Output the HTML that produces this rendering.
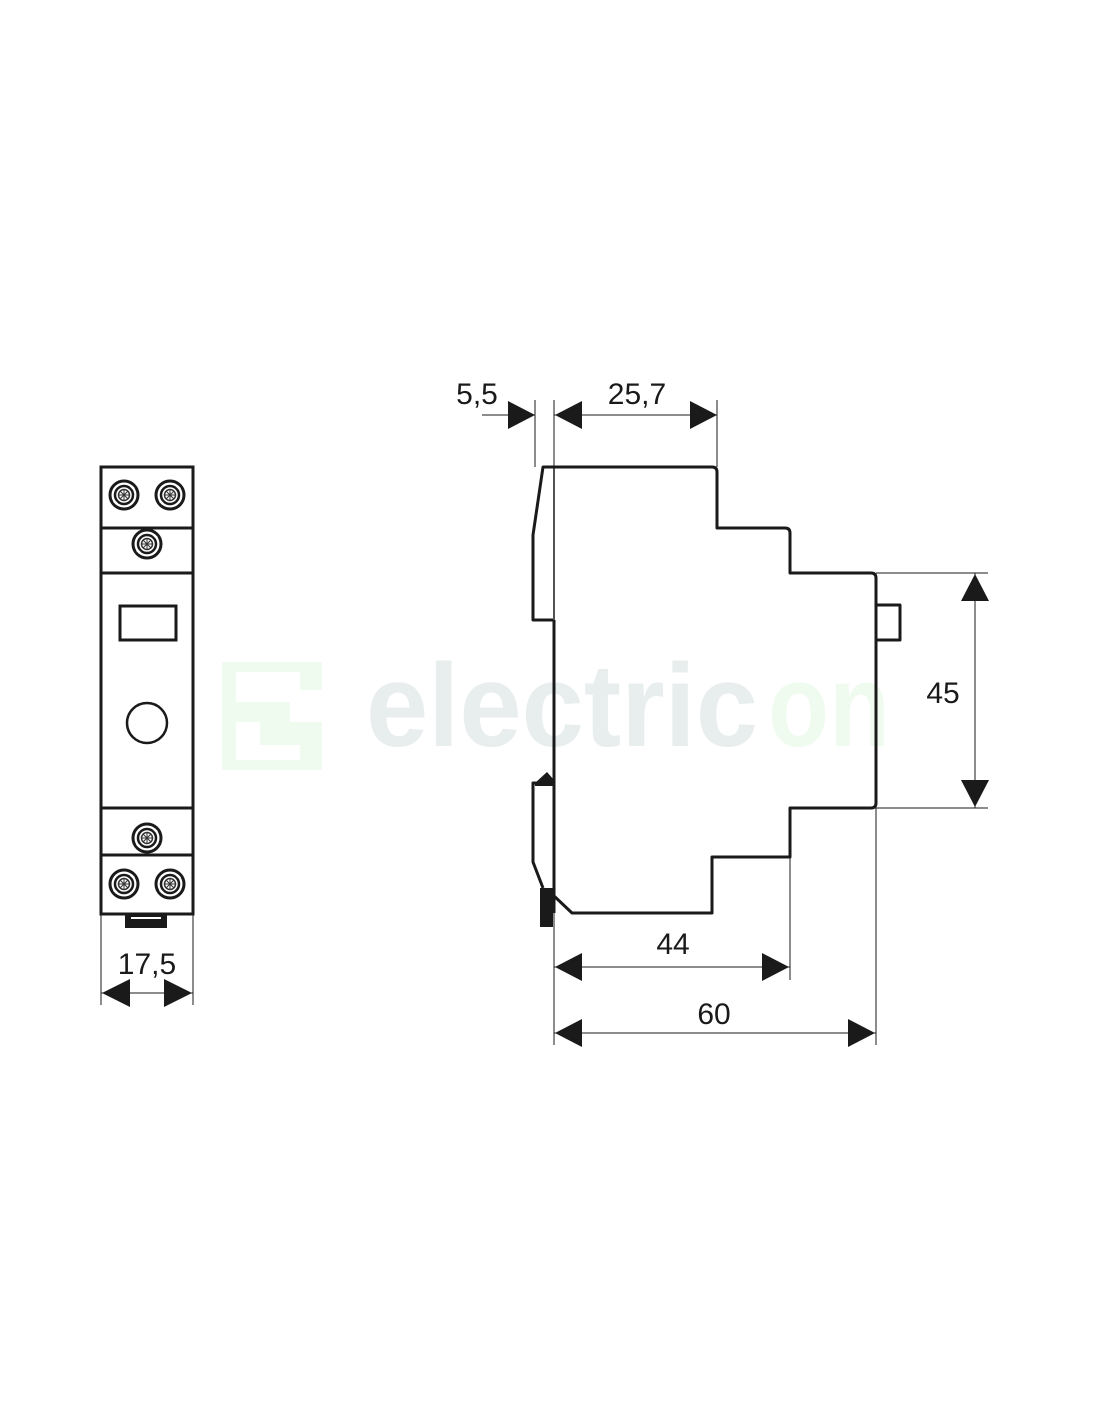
<!DOCTYPE html>
<html><head><meta charset="utf-8"><style>
html,body{margin:0;padding:0;background:#fff}
svg{display:block}
text{font-family:"Liberation Sans",Arial,sans-serif;fill:#1a1a1a}
</style></head><body>
<svg width="1100" height="1422" viewBox="0 0 1100 1422" xmlns="http://www.w3.org/2000/svg">
<defs>
<g id="screw">
  <circle r="14" fill="none" stroke="#1a1a1a" stroke-width="3"/>
  <circle r="9" fill="none" stroke="#1a1a1a" stroke-width="2.5"/>
  <circle r="5.5" fill="none" stroke="#333" stroke-width="1.5"/>
  <path d="M-4,-4L4,4M4,-4L-4,4M0,-5.5V5.5M-5.5,0H5.5" stroke="#333" stroke-width="1"/>
  <path d="M7,-9L10,-6M-7,9L-10,6" stroke="#fff" stroke-width="2.5"/>
</g>
</defs>
<!-- watermark -->
<g>
  <path d="M222,662 H322 V690 H300 V672 H236 V760 H300 V745 H260 V722 H236 V702 H290 V722 H322 V770 H222 Z" fill="#f0fbef"/>
  <text x="366" y="746" font-size="118" font-weight="bold" style="fill:#e8eded" textLength="392" lengthAdjust="spacingAndGlyphs">electric</text>
  <text x="768" y="746" font-size="118" font-weight="bold" style="fill:#f0fbef" textLength="122" lengthAdjust="spacingAndGlyphs">on</text>
</g>

<!-- FRONT VIEW -->
<g fill="none" stroke="#1a1a1a">
  <rect x="101" y="467" width="92" height="447" stroke-width="3"/>
  <line x1="101" y1="528" x2="193" y2="528" stroke-width="3"/>
  <line x1="101" y1="573" x2="193" y2="573" stroke-width="3"/>
  <line x1="101" y1="808" x2="193" y2="808" stroke-width="3"/>
  <line x1="101" y1="855" x2="193" y2="855" stroke-width="3"/>
  <rect x="120" y="606" width="56" height="34" stroke-width="3"/>
  <circle cx="147" cy="723" r="20" stroke-width="2.5"/>
</g>
<use href="#screw" x="124" y="495"/>
<use href="#screw" x="170" y="495"/>
<use href="#screw" x="147" y="544"/>
<use href="#screw" x="147" y="838"/>
<use href="#screw" x="124" y="884"/>
<use href="#screw" x="170" y="884"/>
<rect x="125" y="914" width="42" height="14" fill="#1a1a1a"/>
<line x1="131" y1="918" x2="161" y2="918" stroke="#fff" stroke-width="2"/>
<line x1="101" y1="914" x2="101" y2="1005" stroke="#1a1a1a" stroke-width="1"/>
<line x1="193" y1="914" x2="193" y2="1005" stroke="#1a1a1a" stroke-width="1"/>
<line x1="101" y1="993" x2="193" y2="993" stroke="#1a1a1a" stroke-width="1"/>
<path d="M102,993 L130,979 L130,1007 Z M192,993 L164,979 L164,1007 Z" fill="#1a1a1a"/>
<text x="147" y="974" font-size="30" text-anchor="middle">17,5</text>

<!-- SIDE VIEW -->
<g fill="none" stroke="#1a1a1a" stroke-linejoin="round">
  <path d="M553,620 H533 V535 L543,467 H712 Q717,467 717,472 V528 H785 Q790,528 790,533 V573 H871 Q876,573 876,578 V803 Q876,808 871,808 H790 V857 H712 V913 H572 L553,895" stroke-width="3"/>
  <line x1="554" y1="467" x2="554" y2="620" stroke-width="1.5"/>
  <line x1="554" y1="620" x2="554" y2="913" stroke-width="3"/>
  <path d="M549,783 H533 V862 L543,888" stroke-width="3"/>
  <rect x="876" y="605" width="24" height="35" stroke-width="3"/>
</g>
<path d="M535,783 L547,772 L554,780 V786 H535 Z" fill="#1a1a1a"/>
<rect x="540" y="888" width="13" height="39" fill="#1a1a1a"/>

<!-- dimension lines -->
<g stroke="#1a1a1a" stroke-width="1">
  <line x1="535" y1="400" x2="535" y2="467"/>
  <line x1="554" y1="400" x2="554" y2="1045"/>
  <line x1="717" y1="400" x2="717" y2="467"/>
  <line x1="482" y1="415" x2="535" y2="415"/>
  <line x1="554" y1="415" x2="717" y2="415"/>
  <line x1="876" y1="573" x2="988" y2="573"/>
  <line x1="876" y1="808" x2="988" y2="808"/>
  <line x1="975" y1="573" x2="975" y2="808"/>
  <line x1="790" y1="857" x2="790" y2="980"/>
  <line x1="876" y1="808" x2="876" y2="1045"/>
  <line x1="554" y1="967" x2="790" y2="967"/>
  <line x1="554" y1="1033" x2="876" y2="1033"/>
</g>
<g fill="#1a1a1a">
  <path d="M535,415 L508,401 L508,429 Z"/>
  <path d="M555,415 L582,401 L582,429 Z"/>
  <path d="M717,415 L690,401 L690,429 Z"/>
  <path d="M975,574 L961,601 L989,601 Z"/>
  <path d="M975,807 L961,780 L989,780 Z"/>
  <path d="M555,967 L582,953 L582,981 Z"/>
  <path d="M789,967 L762,953 L762,981 Z"/>
  <path d="M555,1033 L582,1019 L582,1047 Z"/>
  <path d="M875,1033 L848,1019 L848,1047 Z"/>
</g>
<text x="477" y="404" font-size="30" text-anchor="middle">5,5</text>
<text x="637" y="404" font-size="30" text-anchor="middle">25,7</text>
<text x="943" y="703" font-size="30" text-anchor="middle">45</text>
<text x="673" y="954" font-size="30" text-anchor="middle">44</text>
<text x="714" y="1024" font-size="30" text-anchor="middle">60</text>
</svg>
</body></html>
